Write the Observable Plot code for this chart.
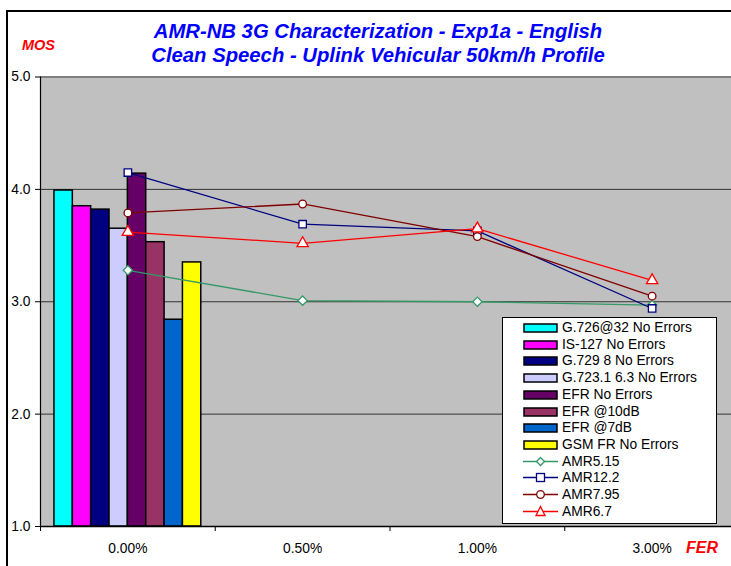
<!DOCTYPE html>
<html>
<head>
<meta charset="utf-8">
<script src="https://cdn.jsdelivr.net/npm/d3@7"></script>
<script src="https://cdn.jsdelivr.net/npm/@observablehq/plot@0.6"></script>
<style>
  html, body { margin: 0; padding: 0; background: #fff; overflow: hidden; width: 731px; height: 566px; }
  #wrap { position: relative; width: 731px; height: 566px; overflow: hidden; font-family: "Liberation Sans", Arial, sans-serif; }
  #border { position: absolute; left: 6px; top: 10px; width: 900px; height: 900px; border-left: 2px solid #000; border-top: 2px solid #000; }
  #chart { position: absolute; left: 0; top: 0; width: 740px; height: 566px; }
  #chart svg { max-width: none !important; }
  .title { position: absolute; left: 0; width: 756px; text-align: center; color: #0000ff; font-weight: bold; font-style: italic; font-size: 20.3px; line-height: 24px; }
  .axt { position: absolute; color: #ff0000; font-weight: bold; font-style: italic; }
  #legend { position: absolute; left: 502px; top: 317px; width: 215px; height: 207px; background: #fff; border: 1px solid #000; box-sizing: border-box; }
  .lrow { position: absolute; left: 0; height: 16px; width: 214px; font-size: 13.8px; line-height: 16px; color: #000; }
  .lrow svg { position: absolute; left: 20px; top: 0; }
  .lrow span { position: absolute; left: 59px; top: 0; white-space: nowrap; }
</style>
</head>
<body>
<div id="wrap">
  <div id="border"></div>
  <div id="chart"></div>
  <div class="title" style="top:19px">AMR-NB 3G Characterization - Exp1a - English</div>
  <div class="title" style="top:43px">Clean Speech - Uplink Vehicular 50km/h Profile</div>
  <div class="axt" style="left:22px; top:37px; font-size:14.5px;">MOS</div>
  <div class="axt" style="left:686px; top:539px; font-size:16px;">FER</div>
  <div id="legend"></div>
</div>
<script>
// Categories (x axis)
const categories = ["0.00%", "0.50%", "1.00%", "3.00%"];

// Bar series (all at 0.00% FER)
const barNames = ["G.726@32 No Errors", "IS-127 No Errors", "G.729 8 No Errors", "G.723.1 6.3 No Errors",
                  "EFR No Errors", "EFR @10dB", "EFR @7dB", "GSM FR No Errors"];
const barValues = [3.99, 3.85, 3.82, 3.65, 4.14, 3.53, 2.84, 3.35];
const barColors = ["#00ffff", "#ff00ff", "#000080", "#ccccff", "#660066", "#993366", "#0066cc", "#ffff00"];

// Line series
const lineNames = ["AMR5.15", "AMR12.2", "AMR7.95", "AMR6.7"];
const amr515 = [3.28, 3.01, 3.00, 2.97];
const amr122 = [4.15, 3.69, 3.63, 2.94];
const amr795 = [3.79, 3.87, 3.58, 3.05];
const amr67  = [3.62, 3.52, 3.65, 3.19];
const lineValues = [amr515, amr122, amr795, amr67];
const lineColors = ["#339966", "#000080", "#800000", "#ff0000"];
const lineSymbols = ["diamond2", "square", "circle", "triangle"];

const yTicks = [1, 2, 3, 4, 5];

// Build tables
const groupWidth = 0.84; // fraction of category band used by the bar group
const barW = groupWidth / barNames.length;
const bars = barNames.map((name, j) => ({
  name, value: barValues[j], color: barColors[j],
  x1: 0.5 - groupWidth / 2 + j * barW,
  x2: 0.5 - groupWidth / 2 + (j + 1) * barW
}));

const lineMarks = [];
lineNames.forEach((name, s) => {
  const pts = categories.map((c, i) => ({ series: name, x: i + 0.5, y: lineValues[s][i] }));
  lineMarks.push(Plot.line(pts, { x: "x", y: "y", stroke: lineColors[s], strokeWidth: 1.3 }));
  lineMarks.push(Plot.dot(pts, { x: "x", y: "y", stroke: lineColors[s], fill: "#fff", strokeWidth: 1.3,
    symbol: lineSymbols[s], r: lineSymbols[s] === "circle" ? 3.8 : 4.2 }));
});

const catTable = categories.map((c, i) => ({ label: c, x: i + 0.5 }));

const chart = Plot.plot({
  width: 740,
  height: 566,
  marginLeft: 40,
  marginRight: 1,
  marginTop: 76.5,
  marginBottom: 40,
  x: { domain: [0, categories.length] },
  y: { domain: [1, 5] },
  color: { type: "identity" },
  style: { background: "transparent", fontFamily: "'Liberation Sans', Arial, sans-serif", fontSize: "13.5px", color: "#000", maxWidth: "none" },
  marks: [
    Plot.frame({ fill: "#c0c0c0", stroke: null }),
    Plot.ruleY([2, 3, 4], { stroke: "#333", strokeWidth: 1 }),
    Plot.ruleY([5], { stroke: "#808080", strokeWidth: 2 }),
    Plot.rect(bars, { x1: "x1", x2: "x2", y1: () => 1, y2: "value", fill: "color", stroke: "#000", strokeWidth: 1.5 }),
    ...lineMarks,
    Plot.ruleX([0], { stroke: "#000", strokeWidth: 1.2 }),
    Plot.ruleY([1], { stroke: "#000", strokeWidth: 1.5 }),
    Plot.axisY({ ticks: yTicks, tickFormat: d => d.toFixed(1), tickSize: 5, tickPadding: 5, label: null, fontSize: 13.8 }),
    Plot.axisX({ ticks: d3.range(categories.length + 1), tickFormat: () => "", tickSize: 5, label: null }),
    Plot.text(catTable, { x: "x", y: () => 1, text: "label", dy: 22, fontSize: 13.8, fill: "#000" })
  ]
});
document.getElementById("chart").appendChild(chart);

// Legend
const legend = document.getElementById("legend");
const rowStep = 16.7;
barNames.forEach((name, j) => {
  const row = document.createElement("div");
  row.className = "lrow";
  row.style.top = (2 + j * rowStep) + "px";
  row.innerHTML = `<svg width="36" height="16"><rect x="1" y="4" width="33" height="8" fill="${barColors[j]}" stroke="#000" stroke-width="1.5"/></svg><span>${name}</span>`;
  legend.appendChild(row);
});
const legendSym = {
  diamond2: `<path d="M17.5,3.5 L21.5,7.5 L17.5,11.5 L13.5,7.5 Z" fill="#fff" stroke="C" stroke-width="1.3"/>`,
  square: `<rect x="13.5" y="3.5" width="8" height="8" fill="#fff" stroke="C" stroke-width="1.3"/>`,
  circle: `<circle cx="17.5" cy="7.5" r="3.8" fill="#fff" stroke="C" stroke-width="1.3"/>`,
  triangle: `<path d="M17.5,2.5 L22,11.5 L13,11.5 Z" fill="#fff" stroke="C" stroke-width="1.3"/>`
};
lineNames.forEach((name, s) => {
  const row = document.createElement("div");
  row.className = "lrow";
  row.style.top = (2 + (barNames.length + s) * rowStep) + "px";
  const sym = legendSym[lineSymbols[s]].replace("C", lineColors[s]);
  row.innerHTML = `<svg width="36" height="16"><line x1="0" x2="35" y1="7.5" y2="7.5" stroke="${lineColors[s]}" stroke-width="1.3"/>${sym}</svg><span>${name}</span>`;
  legend.appendChild(row);
});
</script>
</body>
</html>
